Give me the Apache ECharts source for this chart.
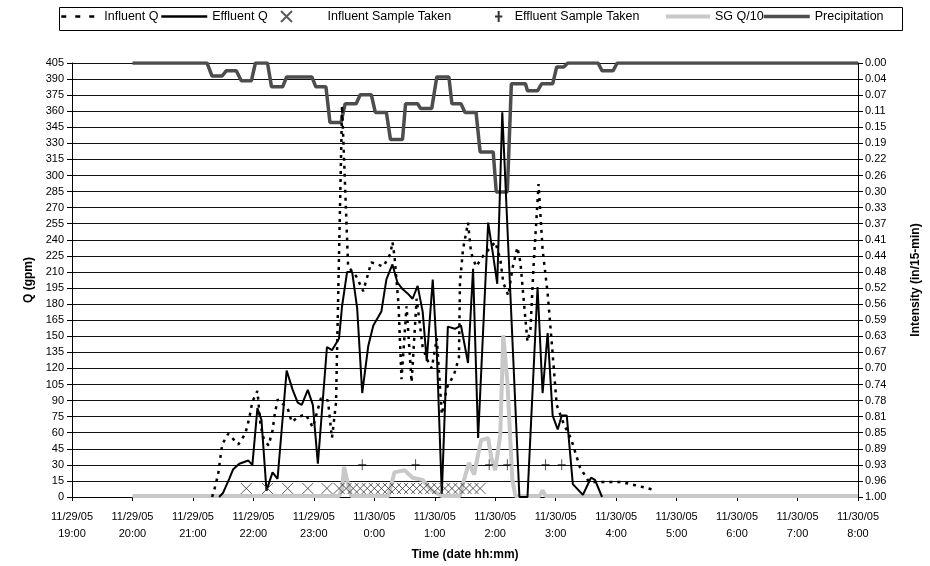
<!DOCTYPE html>
<html>
<head>
<meta charset="utf-8">
<script src="https://cdn.jsdelivr.net/npm/echarts/dist/echarts.min.js"></script>
<style>html,body{margin:0;padding:0;background:#fff}#chart{width:930px;height:566px}</style>
</head>
<body>
<div id="chart"></div>
<script>
// Time values are minutes after 11/29/05 19:00
const xTickLabels = ['11/29/05\n19:00','11/29/05\n20:00','11/29/05\n21:00','11/29/05\n22:00','11/29/05\n23:00',
  '11/30/05\n0:00','11/30/05\n1:00','11/30/05\n2:00','11/30/05\n3:00','11/30/05\n4:00','11/30/05\n5:00',
  '11/30/05\n6:00','11/30/05\n7:00','11/30/05\n8:00'];
const intensityTickLabels = ['0.00','0.04','0.07','0.11','0.15','0.19','0.22','0.26','0.30','0.33','0.37','0.41',
  '0.44','0.48','0.52','0.56','0.59','0.63','0.67','0.70','0.74','0.78','0.81','0.85','0.89','0.93','0.96','1.00'];

const influentQ = [[139,0],[141,6],[145,21],[147,35],[149,49],[155,59],[165,49],[172,59],[176,74],[179,89],[184,99],
  [187,68],[190,55],[195,48],[199,62],[201,76],[204,91],[214,83],[218,70],[225,75],[232,77],[239,65],[247,92],
  [254,90],[258,55],[262,88],[268,365],[274,215],[282,206],[289,192],[297,219],[309,215],[316,227],[318,238],
  [320,225],[324,180],[327,110],[332,178],[337,107],[342,185],[348,140],[352,129],[357,120],[362,148],[367,77],
  [372,102],[379,114],[384,130],[385,200],[388,231],[393,256],[396,228],[401,215],[408,225],[420,238],[425,222],
  [428,200],[433,188],[437,213],[442,233],[445,219],[449,176],[452,145],[455,157],[458,215],[463,292],[467,231],
  [472,190],[476,145],[481,86],[488,68],[495,55],[504,28],[513,14],[545,14],[559,11],[576,7]];

const effluentQ = [[146,0],[150,4],[156,17],[160,26],[166,31],[175,34],[179,30],[184,83],[188,72],[193,6],[199,23],
  [204,17],[213,118],[219,100],[224,88],[228,86],[234,100],[239,86],[244,31],[253,140],[258,137],[265,148],
  [268,178],[273,210],[278,210],[283,176],[288,97],[294,141],[299,160],[307,173],[312,203],[318,217],[323,200],
  [328,194],[333,190],[338,185],[343,197],[348,173],[352,127],[358,203],[362,136],[367,3],[373,159],[380,157],
  [386,160],[393,125],[398,213],[403,55],[413,256],[418,225],[422,199],[427,359],[444,0],[452,0],[462,196],
  [467,97],[472,153],[477,76],[482,63],[486,76],[491,76],[497,12],[507,2],[515,18],[519,16],[526,0]];

const influentSamples = [[173,8],[194,8],[214,8],[234,8],[253,8],[265,8],[272,8],[279,8],[286,8],[293,8],[300,8],
  [307,8],[314,8],[321,8],[328,8],[335,8],[342,8],[349,8],[356,8],[363,8],[370,8],[377,8],[384,8],[391,8],
  [398,8],[405,8]];

const effluentSamples = [[288,30],[341,30],[414,30],[432,30],[470,30],[486,30]];

const sgQ10 = [[60,1],[265,1],[268,8],[270,28],[273,16],[277,1],[314,1],[320,23],[330,25],[338,18],[348,16],
  [357,6],[367,1],[385,1],[389,16],[394,32],[399,21],[406,53],[413,55],[416,37],[420,25],[425,58],[428,151],
  [432,108],[437,16],[440,1],[464,1],[467,6],[470,1],[780,1]];

// precipitation intensity, in/15-min
const precipitation = [[60,0],[134,0],[139,0.030],[149,0.030],[153,0.018],[163,0.018],[168,0.041],[178,0.041],
  [182,0],[194,0],[198,0.055],[209,0.055],[213,0.032],[238,0.032],[242,0.055],[252,0.055],[256,0.137],
  [267,0.137],[271,0.094],[282,0.094],[286,0.073],[297,0.073],[301,0.114],[312,0.114],[316,0.176],[328,0.176],
  [331,0.094],[343,0.094],[346,0.105],[357,0.105],[362,0.032],[374,0.032],[377,0.094],[386,0.094],[390,0.114],
  [401,0.114],[405,0.205],[418,0.205],[421,0.297],[432,0.297],[436,0.048],[450,0.048],[452,0.064],[462,0.064],
  [466,0.048],[477,0.048],[481,0.009],[488,0.009],[492,0],[522,0],[526,0.018],[537,0.018],[541,0],[780,0]];

const FONT = 'Liberation Sans, Arial, sans-serif';
const chart = echarts.init(document.getElementById('chart'), null, {renderer: 'canvas'});

const legendText = {fontFamily: FONT, fontSize: 12.5, color: '#000'};
const legendBase = {orient: 'horizontal', top: 10, padding: 0, itemHeight: 12, selectedMode: false,
  textStyle: legendText};

chart.setOption({
  animation: false,
  backgroundColor: '#fff',
  graphic: [{type: 'rect', left: 57, top: 5, shape: {width: 843, height: 23},
    style: {fill: 'none', stroke: '#000', lineWidth: 1}}],
  legend: [
    Object.assign({}, legendBase, {left: 60, itemWidth: 38, data: ['Influent Q'],
      itemStyle: {opacity: 0}, lineStyle: {width: 2.5, type: [5, 9]}}),
    Object.assign({}, legendBase, {left: 160, itemWidth: 46, data: ['Effluent Q'],
      itemStyle: {opacity: 0}, lineStyle: {width: 2.5}}),
    Object.assign({}, legendBase, {left: 280, itemWidth: 12, itemHeight: 11, data: ['Influent Sample Taken'],
      textStyle: Object.assign({}, legendText, {padding: [0, 0, 0, 30]})}),
    Object.assign({}, legendBase, {left: 494, itemWidth: 10, itemHeight: 11, data: ['Effluent Sample Taken'],
      textStyle: Object.assign({}, legendText, {padding: [0, 0, 0, 6]})}),
    Object.assign({}, legendBase, {left: 664, itemWidth: 44, data: ['SG Q/10'],
      itemStyle: {opacity: 0}, lineStyle: {width: 4}}),
    Object.assign({}, legendBase, {left: 762, itemWidth: 46, data: ['Precipitation'],
      itemStyle: {opacity: 0}, lineStyle: {width: 3.5}})
  ],
  grid: {left: 72, right: 55, top: 63, bottom: 68, containLabel: false},
  xAxis: {
    type: 'value', min: 0, max: 780, interval: 60,
    axisLine: {show: true, lineStyle: {color: '#000', width: 1}},
    axisTick: {show: true, length: 4, lineStyle: {color: '#000'}},
    splitLine: {show: false},
    axisLabel: {formatter: v => xTickLabels[Math.round(v / 60)], fontFamily: FONT, fontSize: 11, color: '#000',
      margin: 11, lineHeight: 17},
    name: 'Time (date hh:mm)', nameLocation: 'middle', nameGap: 52,
    nameTextStyle: {fontFamily: FONT, fontSize: 12, fontWeight: 'bold', color: '#000'}
  },
  yAxis: [
    {
      type: 'value', min: 0, max: 405, interval: 15, position: 'left',
      axisLine: {show: true, lineStyle: {color: '#000', width: 1}},
      axisTick: {show: true, length: 5, lineStyle: {color: '#000'}},
      splitLine: {show: true, lineStyle: {color: '#111', width: 1}},
      axisLabel: {fontFamily: FONT, fontSize: 11, color: '#000', margin: 8},
      name: 'Q (gpm)', nameLocation: 'middle', nameRotate: 90, nameGap: 37,
      nameTextStyle: {fontFamily: FONT, fontSize: 12, fontWeight: 'bold', color: '#000'}
    },
    {
      type: 'value', min: 0, max: 27, interval: 1, position: 'right', inverse: true,
      axisLine: {show: true, lineStyle: {color: '#000', width: 1}},
      axisTick: {show: true, length: 5, lineStyle: {color: '#000'}},
      splitLine: {show: false},
      axisLabel: {formatter: v => intensityTickLabels[Math.round(v)], fontFamily: FONT, fontSize: 11,
        color: '#000', margin: 7},
      name: 'Intensity (in/15-min)', nameLocation: 'middle', nameRotate: 90, nameGap: 52,
      nameTextStyle: {fontFamily: FONT, fontSize: 12, fontWeight: 'bold', color: '#000'}
    }
  ],
  series: [
    {name: 'Precipitation', type: 'line', yAxisIndex: 1, z: 2, symbol: 'none',
      data: precipitation.map(d => [d[0], d[1] * 27]),
      lineStyle: {color: '#4d4d4d', width: 3.5}, itemStyle: {color: '#4d4d4d'}},
    {name: 'SG Q/10', type: 'line', z: 3, symbol: 'none', data: sgQ10,
      lineStyle: {color: '#c8c8c8', width: 4}, itemStyle: {color: '#c8c8c8'}},
    {name: 'Influent Q', type: 'line', z: 4, symbol: 'none', data: influentQ,
      lineStyle: {color: '#000', width: 2.5, type: [3, 5]}, itemStyle: {color: '#000'}},
    {name: 'Effluent Q', type: 'line', z: 5, symbol: 'none', data: effluentQ,
      lineStyle: {color: '#000', width: 2}, itemStyle: {color: '#000'}},
    {name: 'Influent Sample Taken', type: 'scatter', z: 6, data: influentSamples,
      symbol: 'path://M0,0L10,10M10,0L0,10', symbolSize: 11,
      itemStyle: {color: 'rgba(0,0,0,0)', borderColor: '#333', borderWidth: 1}},
    {name: 'Effluent Sample Taken', type: 'scatter', z: 6, data: effluentSamples,
      symbol: 'path://M5,0L5,12M1,6L9,6', symbolSize: [8, 11],
      itemStyle: {color: 'rgba(0,0,0,0)', borderColor: '#000', borderWidth: 1}}
  ]
});
</script>
</body>
</html>
